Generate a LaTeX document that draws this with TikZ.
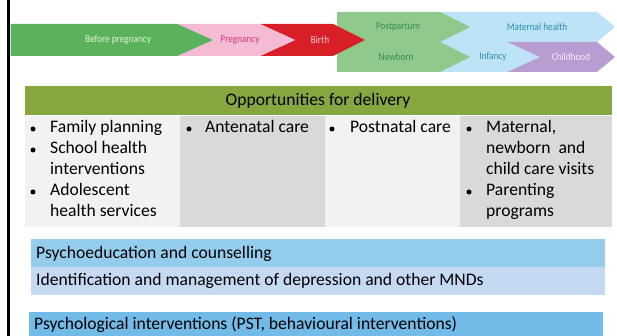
\documentclass[tikz,border=0pt]{standalone}
\usepackage{fontspec}
\setmainfont{Carlito}
\newfontfamily\arrowfont[FakeStretch=0.88]{Carlito}
\definecolor{gBefore}{HTML}{5AB35C}
\definecolor{gBeforeT}{HTML}{E2F2D8}
\definecolor{pPreg}{HTML}{F5BBD4}
\definecolor{pPregT}{HTML}{D3397A}
\definecolor{rBirth}{HTML}{D81E27}
\definecolor{rBirthT}{HTML}{FAD6D6}
\definecolor{gPost}{HTML}{8FC98C}
\definecolor{gPostT}{HTML}{2F8D4E}
\definecolor{bMat}{HTML}{BDE4F6}
\definecolor{bMatT}{HTML}{2B8CAF}
\definecolor{vChild}{HTML}{B79DD2}
\definecolor{vChildT}{HTML}{F3ECF7}
\definecolor{hdr}{HTML}{86A640}
\definecolor{cellA}{HTML}{F2F2F2}
\definecolor{cellB}{HTML}{D9D9D9}
\definecolor{barA}{HTML}{94CCEE}
\definecolor{barB}{HTML}{C4DAF3}
\definecolor{barC}{HTML}{72BAE7}
\tikzset{
  alab/.style={font=\arrowfont\fontsize{10.5}{12}\selectfont, inner sep=0pt},
  itm/.style={anchor=north west, inner sep=0pt, align=left, font=\fontsize{17.6}{21}\selectfont},
  bul/.style={circle, fill=black, inner sep=0pt, minimum size=5pt},
  barlab/.style={anchor=west, inner sep=0pt, font=\fontsize{17.6}{21}\selectfont}
}
\begin{document}
\begin{tikzpicture}[x=1pt,y=-1pt]
\useasboundingbox (0,0) rectangle (617,336);
% left rule
\draw[line width=2.6pt] (8.7,0) -- (8.7,336);
% timeline arrows
\fill[bMat] (430,12) -- (597,12) -- (615,27) -- (597,42) -- (507,42) -- (540,57) -- (507,72) -- (430,72) -- cycle;
\fill[vChild] (507,42) -- (597,42) -- (615,57) -- (597,72) -- (507,72) -- (540,57) -- cycle;
\fill[gPost] (337,12) -- (440,12) -- (470,27) -- (440,42) -- (470,57) -- (440,72) -- (337,72) -- cycle;
\fill[rBirth] (260,24) -- (333,24) -- (365,40) -- (333,56) -- (260,56) -- (295,40) -- cycle;
\fill[pPreg] (177,24) -- (260,24) -- (295,40) -- (260,56) -- (177,56) -- cycle;
\fill[gBefore] (10.5,24) -- (177,24) -- (213,40) -- (177,56) -- (10.5,56) -- cycle;
\node[alab, text=gBeforeT] (tbefore) at (118,40) {Before pregnancy};
\node[alab, text=pPregT] (tpreg) at (240,40) {Pregnancy};
\node[alab, text=rBirthT] (tbirth) at (320,40) {Birth};
\node[alab, text=gPostT] (tpost) at (398,27) {Postpartum};
\node[alab, text=gPostT] (tnew) at (396,57) {Newborn};
\node[alab, text=bMatT] (tmat) at (537,27) {Maternal health};
\node[alab, text=bMatT] (tinf) at (493,57) {Infancy};
\node[alab, text=vChildT] (tchild) at (571,57) {Childhood};
% table
\fill[hdr] (25,86) rectangle (612,115);
\node[font=\fontsize{17.6}{21}\selectfont, inner sep=0pt] (thdr) at (318,101) {Opportunities for delivery};
\fill[cellA] (25,115.7) rectangle (180,227);
\fill[cellB] (180,115.7) rectangle (325,227);
\fill[cellA] (325,115.7) rectangle (460,227);
\fill[cellB] (460,115.7) rectangle (612,227);
% column 1
\node[bul] (b1a) at (33,129) {};
\node[itm] (i1a) at (50,120.5) {Family planning};
\node[bul] (b1b) at (33,150) {};
\node[itm] (i1b) at (50,141.5) {School health\\interventions};
\node[bul] (b1c) at (33,192) {};
\node[itm] (i1c) at (50,183.5) {Adolescent\\health services};
% column 2
\node[bul] (b2a) at (189,129) {};
\node[itm] (i2a) at (205,120.5) {Antenatal care};
% column 3
\node[bul] (b3a) at (332,129) {};
\node[itm] (i3a) at (350,120.5) {Postnatal care};
% column 4
\node[bul] (b4a) at (469,129) {};
\node[itm] (i4a) at (486,120.5) {Maternal,\\newborn\ \ and\\child care visits};
\node[bul] (b4b) at (469,192) {};
\node[itm] (i4b) at (486,183.5) {Parenting\\programs};
% bars
\fill[barA] (31,239) rectangle (605,267);
\fill[barB] (31,267) rectangle (605,295);
\fill[barC] (29,312) rectangle (603,336);
\node[barlab] (p1) at (36,253.5) {Psychoeducation and counselling};
\node[barlab] (p2) at (36,281) {Identification and management of depression and other MNDs};
\node[barlab] (p3) at (34,325) {Psychological interventions (PST, behavioural interventions)};
\end{tikzpicture}
\end{document}
